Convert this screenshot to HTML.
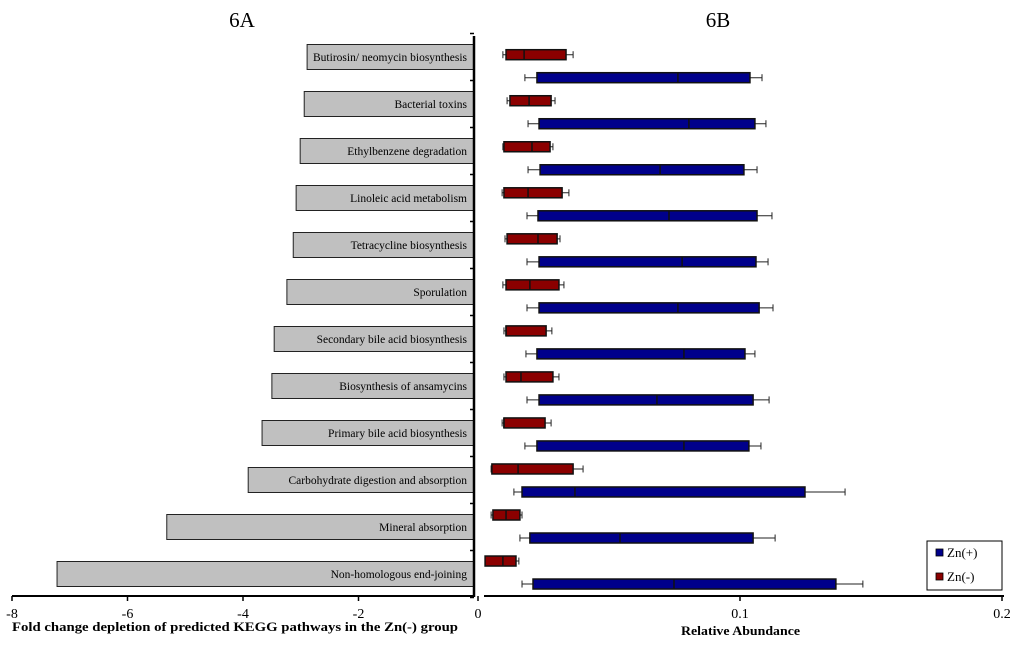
<!DOCTYPE html>
<html><head><meta charset="utf-8"><style>
html,body{margin:0;padding:0;background:#fff;width:1024px;height:646px;overflow:hidden}
svg{display:block;font-family:"Liberation Serif",serif}
</style></head><body>
<svg id="c" width="1024" height="646"></svg>
<script>
const pathways=["Butirosin/ neomycin biosynthesis","Bacterial toxins","Ethylbenzene degradation","Linoleic acid metabolism","Tetracycline biosynthesis","Sporulation","Secondary bile acid biosynthesis","Biosynthesis of ansamycins","Primary bile acid biosynthesis","Carbohydrate digestion and absorption","Mineral absorption","Non-homologous end-joining"];
const foldChange=[-2.89,-2.94,-3.01,-3.08,-3.13,-3.24,-3.46,-3.50,-3.67,-3.91,-5.32,-7.22];
const leftTicks=[-8,-6,-4,-2];
const rightTicks=[0,0.1,0.2];
// [whiskerLow, q1, median, q3, whiskerHigh]
const znMinus=[[.0095,.0107,.0176,.0336,.0363],[.0111,.0122,.0195,.0279,.0294],[.0095,.0099,.0206,.0275,.0286],[.0092,.0099,.0191,.0321,.0347],[.0103,.0111,.0229,.0302,.0313],[.0095,.0107,.0198,.0309,.0328],[.0099,.0107,.0107,.0260,.0282],[.0099,.0107,.0164,.0286,.0309],[.0092,.0099,.0099,.0256,.0279],[.0050,.0053,.0153,.0363,.0401],[.0050,.0057,.0107,.0160,.0168],[.0027,.0027,.0095,.0145,.0156]];
const znPlus=[[.0179,.0225,.0763,.1038,.1084],[.0191,.0233,.0805,.1057,.1099],[.0191,.0237,.0695,.1015,.1065],[.0187,.0229,.0729,.1065,.1122],[.0187,.0233,.0779,.1061,.1107],[.0187,.0233,.0763,.1073,.1126],[.0183,.0225,.0786,.1019,.1057],[.0187,.0233,.0683,.1050,.1111],[.0179,.0225,.0786,.1034,.1080],[.0137,.0168,.0370,.1248,.1401],[.0160,.0198,.0542,.1050,.1134],[.0168,.0210,.0748,.1366,.1469]];

const svg=document.getElementById('c');
const NS='http://www.w3.org/2000/svg';
function mk(tag,attrs,parent,text){const e=document.createElementNS(NS,tag);for(const k in attrs)e.setAttribute(k,attrs[k]);if(text!==undefined)e.textContent=text;(parent||svg).appendChild(e);return e;}
const xL=v=>474+(v-0)*57.75;
const xR=v=>478+v*2620;
const yL=i=>57+i*47;
const yRed=i=>54.7+i*46.03;
const yBlue=i=>77.7+i*46.03;

let t=mk('text',{x:242,y:27,'font-size':21,'text-anchor':'middle'},svg,'6A');

t=mk('text',{x:718,y:27,'font-size':21,'text-anchor':'middle'},svg,'6B');


pathways.forEach((p,i)=>{
  const x0=xL(foldChange[i]);
  const r=mk('rect',{x:x0,y:yL(i)-12.5,width:xL(0)-x0,height:25,fill:'#c0c0c0',stroke:'#222','stroke-width':1});
  
  const tx=mk('text',{x:467,y:yL(i)+4,'font-size':11.5,'text-anchor':'end',fill:'#000'},svg,p);
  
});
let a=mk('line',{x1:474,y1:36,x2:474,y2:597,stroke:'#000','stroke-width':2.5});

for(let i=0;i<=12;i++){mk('line',{x1:470,y1:33.5+i*47,x2:474,y2:33.5+i*47,stroke:'#000','stroke-width':1.5});}
a=mk('line',{x1:12,y1:596,x2:474,y2:596,stroke:'#000','stroke-width':2});

leftTicks.forEach(v=>{
  mk('line',{x1:xL(v),y1:596,x2:xL(v),y2:601,stroke:'#000','stroke-width':1.5});
  const l=mk('text',{x:xL(v),y:618,'font-size':14,'text-anchor':'middle'},svg,String(v));
  
});
t=mk('text',{x:12,y:631,'font-size':13,'font-weight':'bold',textLength:446,lengthAdjust:'spacingAndGlyphs'},svg,'Fold change depletion of predicted  KEGG pathways in the Zn(-) group');


a=mk('line',{x1:484,y1:596,x2:1004,y2:596,stroke:'#000','stroke-width':2});

rightTicks.forEach(v=>{
  mk('line',{x1:xR(v),y1:596,x2:xR(v),y2:601,stroke:'#000','stroke-width':1.5});
  const l=mk('text',{x:xR(v),y:618,'font-size':14,'text-anchor':'middle'},svg,String(v));
  
});
t=mk('text',{x:681,y:635,'font-size':13,'font-weight':'bold',textLength:119,lengthAdjust:'spacingAndGlyphs'},svg,'Relative Abundance');


function box(d,yc,fill,name){
  const g=mk('g',{});
  
  mk('line',{x1:xR(d[0]),y1:yc,x2:xR(d[4]),y2:yc,stroke:'#222','stroke-width':1},g);
  mk('line',{x1:xR(d[0]),y1:yc-3.5,x2:xR(d[0]),y2:yc+3.5,stroke:'#222','stroke-width':1},g);
  mk('line',{x1:xR(d[4]),y1:yc-3.5,x2:xR(d[4]),y2:yc+3.5,stroke:'#222','stroke-width':1},g);
  mk('rect',{x:xR(d[1]),y:yc-5,width:xR(d[3])-xR(d[1]),height:10,fill:fill,stroke:'#111','stroke-width':1.5},g);
  mk('line',{x1:xR(d[2]),y1:yc-5,x2:xR(d[2]),y2:yc+5,stroke:'#111','stroke-width':1.5},g);
}
znMinus.forEach((d,i)=>box(d,yRed(i),'#8b0000','zn-minus-box-'+(i+1)));
znPlus.forEach((d,i)=>box(d,yBlue(i),'#00008b','zn-plus-box-'+(i+1)));

const lg=mk('g',{});

mk('rect',{x:927,y:541,width:75,height:49,fill:'#fff',stroke:'#000','stroke-width':1},lg);
mk('rect',{x:936,y:549,width:7,height:7,fill:'#00008b',stroke:'#000','stroke-width':0.8},lg);
let le=mk('text',{x:947,y:557,'font-size':13},lg,'Zn(+)');

mk('rect',{x:936,y:573,width:7,height:7,fill:'#8b0000',stroke:'#000','stroke-width':0.8},lg);
le=mk('text',{x:947,y:581,'font-size':13},lg,'Zn(-)');

</script>
</body></html>
